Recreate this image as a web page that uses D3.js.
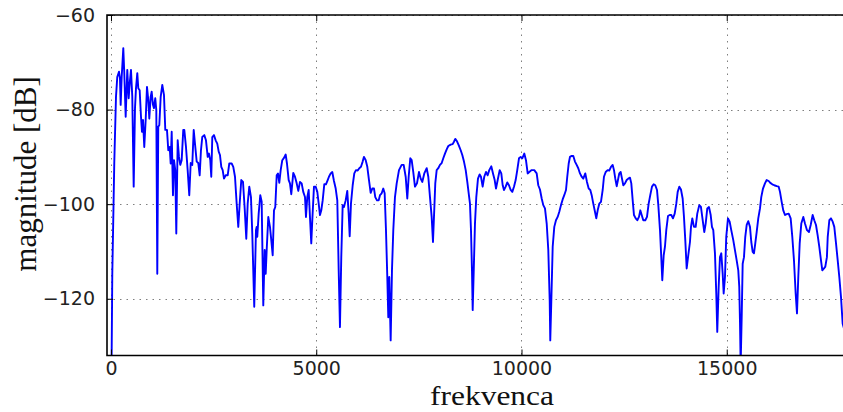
<!DOCTYPE html>
<html>
<head>
<meta charset="utf-8">
<script src="https://cdn.jsdelivr.net/npm/d3@7"></script>
<style>
  html, body { margin: 0; padding: 0; background: #fff; overflow: hidden; }
  .tick text { font-family: "DejaVu Sans", sans-serif; }
</style>
</head>
<body>
<div id="graf"></div>
<script>
// podatki: frekvenca [Hz], magnituda [dB]
const xTicks = [0, 5000, 10000, 15000];
const yTicks = [-120, -100, -80, -60];
const xLabel = "frekvenca";
const yLabel = "magnitude [dB]";

const spekter = [
  [0,-150],[32,-114.7],[80,-91.4],[122,-77.3],[153,-73.1],[195,-72.0],[219,-73.4],[236,-79.0],[261,-73.1],
  [300,-67.0],[324,-72.3],[358,-81.5],[397,-71.6],[431,-77.6],[456,-74.5],[487,-71.6],[519,-77.3],[553,-96.3],
  [585,-79.7],[609,-75.5],[641,-72.3],[665,-75.5],[699,-75.9],[731,-81.5],[755,-84.7],[780,-82.2],[811,-87.9],
  [845,-82.2],[877,-75.2],[909,-78.0],[933,-81.9],[967,-77.3],[991,-76.2],[1023,-79.0],[1047,-79.7],[1079,-77.6],
  [1104,-80.1],[1128,-114.7],[1152,-83.6],[1177,-83.3],[1211,-77.3],[1250,-74.8],[1291,-76.9],[1323,-84.3],
  [1364,-84.3],[1396,-88.6],[1430,-87.9],[1454,-91.4],[1479,-84.7],[1510,-98.1],[1535,-90.7],[1566,-92.8],
  [1591,-106.2],[1625,-86.5],[1656,-90.0],[1688,-91.7],[1722,-90.7],[1761,-84.3],[1786,-84.3],[1827,-87.9],
  [1868,-92.8],[1907,-98.1],[1942,-91.3],[1980,-91.7],[2015,-84.3],[2046,-87.2],[2088,-91.0],[2127,-91.3],
  [2161,-93.9],[2192,-88.6],[2224,-85.8],[2273,-85.4],[2314,-86.5],[2356,-90.0],[2387,-89.3],[2419,-90.7],
  [2443,-94.2],[2468,-85.8],[2509,-85.4],[2550,-86.5],[2589,-87.2],[2624,-88.9],[2655,-89.6],[2687,-92.1],
  [2721,-92.8],[2753,-94.6],[2794,-93.9],[2843,-93.9],[2882,-91.4],[2940,-91.4],[2979,-92.1],[3021,-94.2],
  [3062,-99.9],[3101,-104.8],[3135,-99.9],[3174,-94.9],[3216,-95.3],[3257,-100.9],[3296,-107.3],[3330,-99.9],
  [3369,-96.3],[3410,-98.5],[3442,-106.2],[3490,-121.7],[3532,-105.5],[3549,-104.8],[3564,-106.9],[3598,-102.0],
  [3637,-98.1],[3671,-99.5],[3710,-121.4],[3744,-109.7],[3769,-114.7],[3793,-109.7],[3832,-102.7],[3873,-104.8],
  [3905,-107.6],[3939,-110.8],[3971,-101.3],[4002,-100.6],[4037,-93.9],[4068,-93.5],[4100,-95.5],[4134,-92.8],
  [4173,-90.7],[4222,-90.1],[4256,-89.5],[4287,-91.4],[4329,-94.9],[4360,-95.6],[4392,-97.9],[4441,-93.4],
  [4482,-94.2],[4524,-95.6],[4563,-97.2],[4604,-95.3],[4645,-95.6],[4684,-97.4],[4726,-98.5],[4750,-102.7],
  [4782,-98.5],[4816,-97.0],[4855,-104.1],[4879,-108.3],[4904,-103.4],[4945,-96.3],[4987,-96.3],[5026,-97.4],
  [5060,-99.9],[5091,-102.3],[5123,-101.3],[5157,-99.2],[5196,-95.8],[5237,-95.8],[5279,-94.9],[5310,-94.2],
  [5352,-93.5],[5391,-93.2],[5432,-95.1],[5474,-96.7],[5513,-99.2],[5547,-114.0],[5578,-126.0],[5610,-111.2],
  [5644,-100.2],[5676,-100.6],[5717,-99.2],[5756,-97.2],[5790,-102.0],[5815,-106.8],[5846,-99.9],[5888,-96.0],
  [5927,-93.5],[5968,-92.8],[6010,-92.9],[6049,-92.4],[6090,-92.1],[6131,-91.0],[6163,-90.0],[6205,-90.7],
  [6244,-92.1],[6285,-94.9],[6326,-97.6],[6365,-96.7],[6407,-96.7],[6438,-98.5],[6480,-99.2],[6521,-99.2],
  [6553,-98.1],[6594,-97.7],[6633,-96.7],[6667,-97.7],[6699,-105.5],[6731,-115.4],[6755,-123.9],[6779,-115.4],
  [6813,-128.8],[6845,-114.0],[6877,-105.5],[6918,-98.5],[6960,-95.6],[7016,-92.8],[7081,-91.7],[7130,-91.7],
  [7179,-94.2],[7218,-98.8],[7252,-94.2],[7291,-90.3],[7325,-90.7],[7364,-93.2],[7405,-96.3],[7454,-95.6],
  [7503,-93.2],[7544,-94.6],[7583,-95.3],[7632,-93.5],[7691,-92.4],[7730,-94.2],[7771,-98.5],[7812,-102.7],
  [7844,-108.0],[7868,-102.7],[7900,-95.6],[7934,-92.8],[7973,-92.4],[8014,-91.7],[8056,-91.3],[8095,-90.3],
  [8136,-89.3],[8178,-88.4],[8217,-87.7],[8275,-87.4],[8324,-87.3],[8355,-86.8],[8387,-86.2],[8429,-86.7],
  [8470,-87.5],[8519,-88.6],[8558,-89.6],[8599,-91.0],[8641,-92.8],[8680,-95.3],[8714,-97.7],[8745,-99.9],
  [8770,-105.5],[8794,-114.0],[8811,-122.4],[8836,-114.3],[8867,-104.1],[8899,-98.5],[8940,-94.6],[8981,-93.7],
  [9013,-94.2],[9054,-96.3],[9093,-94.2],[9135,-93.2],[9176,-93.9],[9215,-92.8],[9264,-92.0],[9306,-93.5],
  [9347,-94.9],[9379,-96.7],[9420,-94.9],[9469,-92.8],[9508,-93.5],[9542,-96.0],[9573,-97.0],[9615,-96.3],
  [9654,-95.4],[9695,-96.0],[9737,-97.0],[9776,-97.4],[9817,-96.3],[9858,-94.9],[9897,-92.8],[9939,-90.3],
  [9980,-90.0],[10019,-90.3],[10068,-89.3],[10109,-90.7],[10151,-93.5],[10190,-93.2],[10248,-92.8],[10311,-92.8],
  [10370,-93.5],[10409,-96.0],[10450,-96.9],[10492,-98.8],[10531,-100.2],[10572,-100.9],[10614,-104.1],
  [10653,-109.7],[10687,-120.3],[10701,-128.8],[10726,-120.7],[10760,-109.0],[10799,-104.8],[10840,-103.4],
  [10881,-102.7],[10921,-101.6],[10962,-100.2],[11003,-99.0],[11042,-98.1],[11084,-97.0],[11115,-94.2],
  [11150,-91.4],[11181,-90.0],[11223,-89.8],[11262,-89.8],[11303,-91.0],[11344,-91.7],[11383,-92.4],
  [11425,-93.5],[11466,-94.2],[11505,-94.6],[11554,-93.5],[11595,-95.3],[11637,-96.7],[11676,-97.0],
  [11710,-98.1],[11749,-99.9],[11790,-101.6],[11822,-103.0],[11856,-101.3],[11895,-99.9],[11936,-99.5],
  [11978,-97.0],[12009,-94.2],[12051,-93.2],[12099,-92.8],[12138,-92.9],[12180,-92.1],[12221,-91.7],
  [12253,-92.8],[12285,-94.6],[12319,-96.2],[12350,-94.9],[12382,-93.5],[12416,-93.2],[12448,-94.6],
  [12480,-96.0],[12521,-95.6],[12562,-94.9],[12601,-94.6],[12643,-94.4],[12675,-95.6],[12709,-99.2],
  [12740,-102.3],[12782,-103.0],[12821,-103.4],[12862,-102.7],[12894,-101.3],[12928,-102.3],[12967,-103.4],
  [13016,-103.4],[13057,-102.7],[13098,-99.9],[13137,-98.1],[13179,-96.3],[13220,-95.8],[13259,-96.0],
  [13301,-97.0],[13333,-100.2],[13374,-105.5],[13405,-111.2],[13430,-116.1],[13464,-110.8],[13495,-109.0],
  [13527,-105.5],[13569,-102.5],[13610,-102.3],[13649,-102.3],[13690,-103.0],[13732,-102.0],[13771,-99.9],
  [13805,-97.4],[13844,-96.3],[13885,-96.9],[13926,-98.8],[13958,-102.7],[13990,-107.6],[14024,-113.6],
  [14063,-110.8],[14104,-108.0],[14129,-104.8],[14161,-103.0],[14202,-104.8],[14243,-104.8],[14282,-102.0],
  [14331,-100.2],[14372,-100.6],[14414,-103.4],[14453,-105.9],[14487,-104.1],[14526,-100.9],[14567,-100.6],
  [14609,-102.3],[14640,-104.8],[14672,-105.5],[14713,-110.4],[14745,-118.9],[14769,-127.0],[14803,-117.5],
  [14835,-111.2],[14867,-110.4],[14901,-114.7],[14925,-118.9],[14957,-115.4],[14988,-106.9],[15030,-103.0],
  [15071,-103.7],[15110,-105.5],[15159,-107.6],[15200,-109.7],[15242,-111.9],[15281,-114.0],[15305,-117.5],
  [15322,-124.6],[15339,-134.0],[15364,-123.9],[15388,-112.6],[15420,-111.2],[15451,-106.9],[15486,-104.4],
  [15525,-103.6],[15566,-104.8],[15598,-108.0],[15632,-110.1],[15663,-110.4],[15695,-108.3],[15729,-105.9],
  [15768,-103.0],[15810,-100.9],[15841,-98.5],[15883,-96.7],[15931,-95.6],[15973,-94.9],[16022,-95.1],
  [16061,-95.5],[16109,-95.8],[16158,-96.0],[16216,-96.2],[16265,-96.3],[16297,-97.4],[16338,-99.5],
  [16377,-101.3],[16419,-102.3],[16460,-102.1],[16509,-102.0],[16557,-103.0],[16597,-106.9],[16638,-111.9],
  [16679,-118.9],[16711,-123.1],[16743,-115.4],[16777,-108.3],[16816,-104.1],[16865,-102.7],[16906,-104.1],
  [16955,-105.5],[17003,-105.9],[17045,-104.4],[17093,-102.3],[17132,-103.4],[17174,-104.4],[17215,-106.6],
  [17254,-109.0],[17296,-111.9],[17328,-114.0],[17369,-113.6],[17401,-113.2],[17440,-111.2],[17460,-106.9],
  [17499,-103.4],[17540,-103.0],[17581,-103.7],[17620,-104.8],[17662,-108.3],[17703,-111.9],[17742,-115.4],
  [17783,-119.6],[17824,-125.3],[17880,-127.0]
];

// dimenzije
const width = 843;
const height = 412;
const marginLeft = 107;
const marginTop = 15;
const marginBottom = 56.5;

const x = d3.scaleLinear()
    .domain([-97, 17832])
    .range([marginLeft, width]);

const y = d3.scaleLinear()
    .domain([-132, -60])
    .range([height - marginBottom, marginTop]);

const svg = d3.select("#graf")
    .append("svg")
    .attr("width", width)
    .attr("height", height)
    .attr("viewBox", [0, 0, width, height]);

svg.append("clipPath")
    .attr("id", "obmocje")
    .append("rect")
    .attr("x", marginLeft)
    .attr("y", marginTop)
    .attr("width", width - marginLeft)
    .attr("height", y(-132) - marginTop);

// mreža
const mreza = svg.append("g")
    .attr("stroke", "#7f7f7f")
    .attr("stroke-width", 1)
    .attr("stroke-dasharray", "1.5,5");

mreza.selectAll("line.v")
    .data(xTicks)
    .join("line")
    .attr("class", "v")
    .attr("x1", d => Math.round(x(d)) + 0.5)
    .attr("x2", d => Math.round(x(d)) + 0.5)
    .attr("y1", marginTop)
    .attr("y2", y(-132));

mreza.selectAll("line.h")
    .data(yTicks)
    .join("line")
    .attr("class", "h")
    .attr("x1", marginLeft)
    .attr("x2", width)
    .attr("y1", d => Math.round(y(d)) + 0.5)
    .attr("y2", d => Math.round(y(d)) + 0.5);

// črta
const line = d3.line()
    .x(d => x(d[0]))
    .y(d => y(d[1]));

svg.append("path")
    .datum(spekter)
    .attr("clip-path", "url(#obmocje)")
    .attr("fill", "none")
    .attr("stroke", "#0000ff")
    .attr("stroke-width", 1.9)
    .attr("stroke-linejoin", "round")
    .attr("d", line);

// osi
const fmt = d => d < 0 ? "\u2212" + Math.abs(d) : String(d);

svg.append("g")
    .attr("transform", `translate(0,${y(-132)})`)
    .call(d3.axisBottom(x).tickValues(xTicks).tickSizeInner(-6).tickSizeOuter(0).tickPadding(6).tickFormat(fmt))
    .call(g => g.select(".domain").remove())
    .call(g => g.selectAll("text").attr("font-size", 19).attr("fill", "#222"));

svg.append("g")
    .attr("transform", `translate(0,${marginTop})`)
    .call(d3.axisTop(x).tickValues(xTicks).tickSizeInner(-6).tickSizeOuter(0).tickFormat(""))
    .call(g => g.select(".domain").remove());

svg.append("g")
    .attr("transform", `translate(${marginLeft},0)`)
    .call(d3.axisLeft(y).tickValues(yTicks).tickSizeInner(-6).tickSizeOuter(0).tickPadding(12).tickFormat(fmt))
    .call(g => g.select(".domain").remove())
    .call(g => g.selectAll("text").attr("font-size", 19).attr("fill", "#222"));

// okvir
svg.append("path")
    .attr("fill", "none")
    .attr("stroke", "#000")
    .attr("stroke-width", 1.6)
    .attr("d", `M${width + 5},${marginTop}H${marginLeft}V${y(-132)}H${width + 5}`);

// oznake osi
svg.append("text")
    .attr("x", 492)
    .attr("y", 405)
    .attr("text-anchor", "middle")
    .attr("font-family", "'Liberation Serif', serif")
    .attr("font-size", 28)
    .attr("textLength", 124)
    .attr("lengthAdjust", "spacingAndGlyphs")
    .attr("fill", "#111")
    .text(xLabel);

svg.append("text")
    .attr("transform", "translate(36,174) rotate(-90)")
    .attr("text-anchor", "middle")
    .attr("font-family", "'Liberation Serif', serif")
    .attr("font-size", 31)
    .attr("fill", "#111")
    .text(yLabel);
</script>
</body>
</html>
